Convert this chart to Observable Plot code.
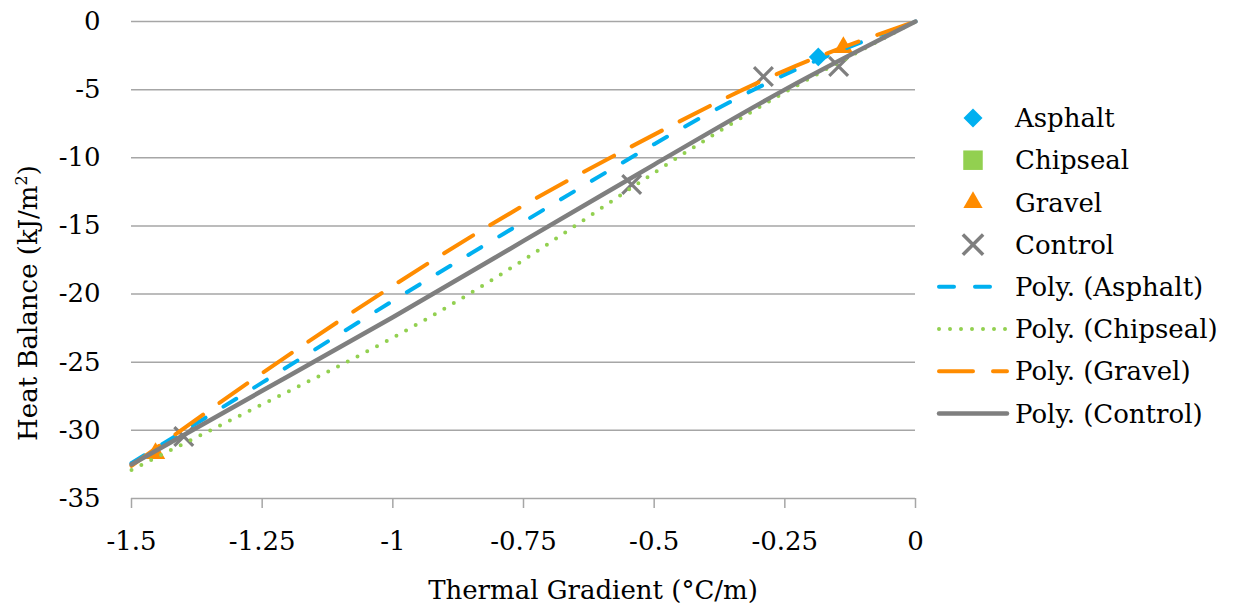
<!DOCTYPE html>
<html><head><meta charset="utf-8">
<script src="https://cdn.jsdelivr.net/npm/d3@7"></script>
<script src="https://cdn.jsdelivr.net/npm/@observablehq/plot@0.6"></script>
<style>
body{margin:0;background:#fff;}
#wrap{position:relative;width:1238px;height:608px;font-family:"DejaVu Serif",serif;overflow:hidden;background:#fff;}
#wrap > svg{position:absolute;left:0;top:0;}
.lbl{position:absolute;font-size:26px;white-space:nowrap;color:#000;line-height:1;}
</style></head><body><div id="wrap"></div>
<script>
// ---- data ----
const gradientTicks = [-1.5, -1.25, -1, -0.75, -0.5, -0.25, 0];
const balanceTicks = [-35, -30, -25, -20, -15, -10, -5, 0];

const asphaltX = [-0.186];
const asphaltY = [-2.6];
const chipsealX = [];
const chipsealY = [];
const gravelX = [-1.454, -0.138];
const gravelY = [-31.7, -1.9];
const controlX = [-1.40, -0.543, -0.291, -0.147];
const controlY = [-30.45, -11.96, -4.04, -3.30];

// trendline values at each gradient tick
const fitX = [-1.5, -1.25, -1, -0.75, -0.5, -0.25, 0];
const asphaltFit = [-32.4, -26.5, -20.5, -14.7, -9.0, -3.9, 0];
const chipsealFit = [-32.9, -28.1, -23.2, -17.5, -11.1, -5.2, 0];
const gravelFit = [-32.6, -25.8, -19.4, -13.5, -8.3, -3.6, 0];
const controlFit = [-32.5, -27.1, -21.7, -16.1, -10.5, -5.0, 0];

const seriesNames = ["Asphalt", "Chipseal", "Gravel", "Control"];
const colors = {Asphalt: "#00b0f0", Chipseal: "#92d050", Gravel: "#ff8c00", Control: "#7f7f7f"};

// ---- tables ----
const pts = (xs, ys) => xs.map((x, i) => ({x, y: ys[i]}));
const asphaltPts = pts(asphaltX, asphaltY);
const chipsealPts = pts(chipsealX, chipsealY);
const gravelPts = pts(gravelX, gravelY);
const controlPts = pts(controlX, controlY);
const fit = ys => fitX.map((x, i) => ({x, y: ys[i]}));

const font = "DejaVu Serif";
const plot = Plot.plot({
  width: 1238, height: 608,
  marginLeft: 131, marginRight: 323, marginTop: 21, marginBottom: 110,
  style: {fontFamily: font, fontSize: "26px", background: "transparent", color: "#000"},
  x: {domain: [-1.5, 0]},
  y: {domain: [-35, 0]},
  marks: [
    Plot.gridY(balanceTicks, {stroke: "#a6a6a6", strokeOpacity: 1, strokeWidth: 1.5}),
    Plot.axisY(balanceTicks, {tickSize: 0, tickPadding: 31, tickFormat: d => String(d), label: null, fill: "#000"}),
    Plot.axisX(gradientTicks, {tickSize: 10, tickPadding: 23, tickFormat: d => String(d), label: null, stroke: "#a6a6a6", strokeWidth: 1.5, fill: "#000"}),
    Plot.dot(asphaltPts, {x: "x", y: "y", symbol: "diamond2", r: 8.5, fill: colors.Asphalt}),
    Plot.dot(chipsealPts, {x: "x", y: "y", symbol: "square", r: 10, fill: colors.Chipseal}),
    Plot.dot(gravelPts, {x: "x", y: "y", symbol: "triangle", r: 7.2, fill: colors.Gravel}),
    Plot.dot(controlPts, {x: "x", y: "y", symbol: "times", r: 8.6, stroke: colors.Control, strokeWidth: 3.2}),
    Plot.line(fit(asphaltFit), {x: "x", y: "y", curve: "natural", stroke: colors.Asphalt, strokeWidth: 4, strokeDasharray: "15,21", strokeLinecap: "round"}),
    Plot.line(fit(chipsealFit), {x: "x", y: "y", curve: "natural", stroke: colors.Chipseal, strokeWidth: 4, strokeDasharray: "0,11", strokeLinecap: "round"}),
    Plot.line(fit(gravelFit), {x: "x", y: "y", curve: "natural", stroke: colors.Gravel, strokeWidth: 4, strokeDasharray: "34,20", strokeLinecap: "round"}),
    Plot.line(fit(controlFit), {x: "x", y: "y", curve: "natural", stroke: colors.Control, strokeWidth: 4.5, strokeLinecap: "round"})
  ]
});
const wrap = document.getElementById("wrap");
wrap.appendChild(plot);

// ---- axis titles ----
const yt = document.createElement("div");
yt.className = "lbl";
yt.innerHTML = "Heat Balance (kJ/m<sup style='font-size:16px;vertical-align:10px;line-height:0'>2</sup>)";
yt.style.left = "28px"; yt.style.top = "303px";
yt.style.transform = "translate(-50%,-50%) rotate(-90deg)";
wrap.appendChild(yt);
const xt = document.createElement("div");
xt.className = "lbl";
xt.textContent = "Thermal Gradient (°C/m)";
xt.style.left = "593px"; xt.style.top = "590px";
xt.style.transform = "translate(-50%,-50%)";
wrap.appendChild(xt);

// ---- legend ----
const leg = d3.select(wrap).append("svg").attr("width", 1238).attr("height", 608)
  .style("font-family", font).style("font-size", "26px");
const rowY = i => 118 + i * 42.2;
const symTypes = {Asphalt: [d3.symbolDiamond2, 230], Chipseal: [d3.symbolSquare, 380], Gravel: [d3.symbolTriangle, 160], Control: [d3.symbolTimes, 270]};
seriesNames.forEach((name, i) => {
  const [t, s] = symTypes[name];
  const p = leg.append("path").attr("d", d3.symbol(t, s)()).attr("transform", `translate(973,${rowY(i)})`);
  if (name === "Control") p.attr("fill", "none").attr("stroke", colors[name]).attr("stroke-width", 3.5);
  else p.attr("fill", colors[name]);
  leg.append("text").attr("x", 1015).attr("y", rowY(i)).attr("dy", "0.35em").text(name);
});
const lineStyles = {Asphalt: ["15,21", 4], Chipseal: ["0,11", 4], Gravel: ["34,20", 4], Control: [null, 4.5]};
seriesNames.forEach((name, j) => {
  const i = j + 4;
  const [dash, w] = lineStyles[name];
  const l = leg.append("line").attr("x1", 939).attr("x2", 1007).attr("y1", rowY(i)).attr("y2", rowY(i))
    .attr("stroke", colors[name]).attr("stroke-width", w).attr("stroke-linecap", "round");
  if (dash) l.attr("stroke-dasharray", dash);
  leg.append("text").attr("x", 1015).attr("y", rowY(i)).attr("dy", "0.35em").text(`Poly. (${name})`);
});
</script></body></html>
